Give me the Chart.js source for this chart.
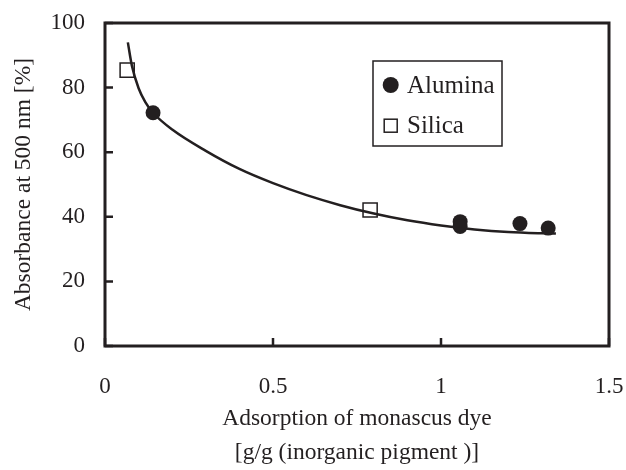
<!DOCTYPE html>
<html>
<head>
<meta charset="utf-8">
<script src="https://cdn.jsdelivr.net/npm/chart.js@4.4.1/dist/chart.umd.min.js"></script>
<style>
  html, body { margin: 0; padding: 0; background: #fff; }
  #wrap { width: 626px; height: 470px; }
</style>
</head>
<body>
<div id="wrap"><canvas id="absChart" width="626" height="470"></canvas></div>
<script>
// values
const aluminaX = [0.143, 1.057, 1.057, 1.235, 1.319];
const aluminaY = [72.2, 38.5, 37.0, 37.9, 36.5];
const silicaX = [0.066, 0.789];
const silicaY = [85.4, 42.1];
// fitted curve
const fitX = [0.068, 0.08, 0.10, 0.12, 0.143, 0.2, 0.3, 0.4, 0.5, 0.6, 0.7, 0.8, 0.9, 1.0, 1.1, 1.2, 1.3, 1.342];
const fitY = [94.0, 86.8, 79.8, 75.5, 72.2, 67.0, 60.4, 54.8, 50.4, 46.7, 43.6, 41.0, 38.9, 37.3, 36.1, 35.3, 34.9, 34.8];
const xTicks = [0, 0.5, 1, 1.5];
const yTicks = [0, 20, 40, 60, 80, 100];

const ink = '#231f20';
const serif = '"Liberation Serif", "Times New Roman", serif';

function pts(xs, ys) {
  return xs.map(function (x, i) { return { x: x, y: ys[i] }; });
}

// box round the plot, inward ticks and the legend
const framePlugin = {
  id: 'frame',
  afterDraw(chart) {
    const ctx = chart.ctx;
    const ca = chart.chartArea;
    const xs = chart.scales.x, ys = chart.scales.y;
    ctx.save();
    ctx.strokeStyle = ink;
    ctx.lineWidth = 3;
    ctx.strokeRect(ca.left, ca.top, ca.right - ca.left, ca.bottom - ca.top);

    ctx.lineWidth = 2.5;
    ctx.beginPath();
    xTicks.forEach(function (v) {
      const px = xs.getPixelForValue(v);
      ctx.moveTo(px, ca.bottom);
      ctx.lineTo(px, ca.bottom - 8);
    });
    yTicks.forEach(function (v) {
      const py = ys.getPixelForValue(v);
      ctx.moveTo(ca.left, py);
      ctx.lineTo(ca.left + 8, py);
    });
    ctx.stroke();

    // legend
    const bx = ca.left + 268, by = ca.top + 38;
    ctx.lineWidth = 1.5;
    ctx.strokeRect(bx, by, 129, 85);
    ctx.fillStyle = ink;
    ctx.beginPath();
    ctx.arc(bx + 17.7, by + 24, 8, 0, Math.PI * 2);
    ctx.fill();
    ctx.strokeRect(bx + 17.7 - 6.5, by + 64.7 - 6.5, 13, 13);
    ctx.font = '25px ' + serif;
    ctx.textBaseline = 'alphabetic';
    ctx.textAlign = 'left';
    ctx.fillText('Alumina', bx + 34, by + 32.3);
    ctx.fillText('Silica', bx + 34, by + 72.3);
    ctx.restore();
  }
};

const ctx = document.getElementById('absChart').getContext('2d');
const absChart = new Chart(ctx, {
  type: 'scatter',
  data: {
    datasets: [
      {
        label: 'Alumina',
        data: pts(aluminaX, aluminaY),
        pointStyle: 'circle',
        pointRadius: 7.5,
        pointBackgroundColor: ink,
        pointBorderColor: ink,
        pointBorderWidth: 0,
        order: 0
      },
      {
        label: 'Silica',
        data: pts(silicaX, silicaY),
        pointStyle: 'rect',
        pointRadius: 10,
        pointBackgroundColor: 'rgba(0,0,0,0)',
        pointBorderColor: ink,
        pointBorderWidth: 1.5,
        order: 1
      },
      {
        label: 'fit',
        data: pts(fitX, fitY),
        showLine: true,
        pointRadius: 0,
        borderColor: ink,
        borderWidth: 2.5,
        cubicInterpolationMode: 'monotone',
        order: 2
      }
    ]
  },
  options: {
    responsive: false,
    devicePixelRatio: 1,
    animation: false,
    layout: { padding: { left: 0, right: 17, top: 23, bottom: 0 } },
    plugins: {
      legend: { display: false },
      tooltip: { enabled: false }
    },
    scales: {
      x: {
        type: 'linear',
        min: 0,
        max: 1.5,
        afterBuildTicks: function (s) { s.ticks = xTicks.map(function (v) { return { value: v }; }); },
        afterFit: function (s) { s.height = 124; },
        grid: { display: true, drawOnChartArea: false, drawTicks: true, tickLength: 27, tickColor: 'rgba(0,0,0,0)' },
        border: { display: false },
        ticks: {
          padding: 0, color: ink, font: { family: serif, size: 23 }, maxRotation: 0,
          callback: function (v) { return String(v); }
        },
        title: {
          display: true,
          text: ['Adsorption of monascus dye', '[g/g (inorganic pigment )]'],
          color: ink,
          font: { family: serif, size: 23.5, lineHeight: 1.45 },
          padding: { top: 0, bottom: 0 }
        }
      },
      y: {
        type: 'linear',
        min: 0,
        max: 100,
        afterBuildTicks: function (s) { s.ticks = yTicks.map(function (v) { return { value: v }; }); },
        afterFit: function (s) { s.width = 105; },
        grid: { display: true, drawOnChartArea: false, drawTicks: true, tickLength: 20, tickColor: 'rgba(0,0,0,0)' },
        border: { display: false },
        ticks: { padding: 0, color: ink, font: { family: serif, size: 23 } },
        title: {
          display: true,
          text: 'Absorbance at 500 nm [%]',
          color: ink,
          font: { family: serif, size: 23.5, lineHeight: 1.2 },
          padding: { top: 10, bottom: 0 }
        }
      }
    }
  },
  plugins: [framePlugin]
});
</script>
</body>
</html>
